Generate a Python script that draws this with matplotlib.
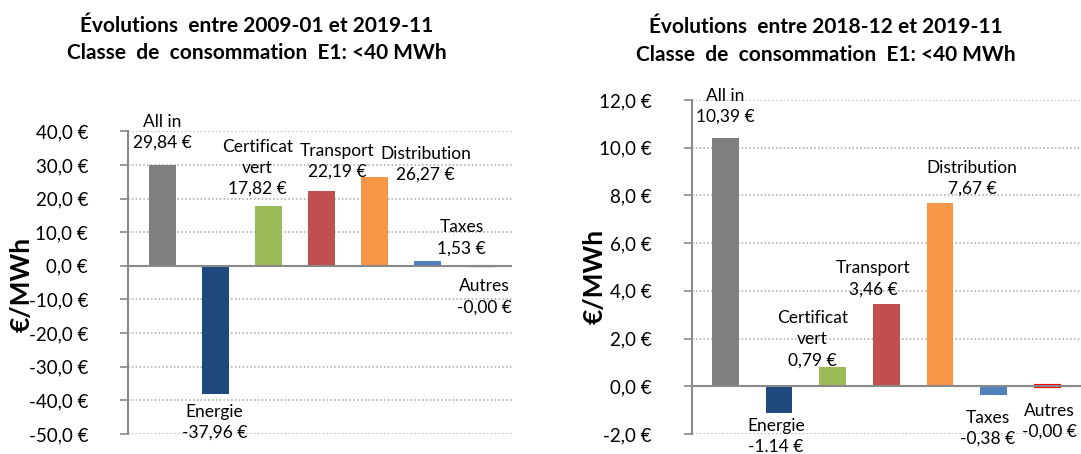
import matplotlib
matplotlib.use("Agg")
import matplotlib.pyplot as plt

plt.rcParams['font.family'] = ['Lato', 'DejaVu Sans']

# ---- data ----
categories = ["All in", "Energie", "Certificat\nvert", "Transport", "Distribution", "Taxes", "Autres"]
values_left = [29.84, -37.96, 17.82, 22.19, 26.27, 1.53, -0.004]
labels_left = ["29,84 €", "-37,96 €", "17,82 €", "22,19 €", "26,27 €", "1,53 €", "-0,00 €"]
values_right = [10.39, -1.14, 0.79, 3.46, 7.67, -0.38, -0.004]
labels_right = ["10,39 €", "-1.14 €", "0,79 €", "3,46 €", "7,67 €", "-0,38 €", "-0,00 €"]
title_left = "Évolutions  entre 2009-01 et 2019-11\nClasse  de  consommation  E1: <40 MWh"
title_right = "Évolutions  entre 2018-12 et 2019-11\nClasse  de  consommation  E1: <40 MWh"
yticks_left = [40, 30, 20, 10, 0, -10, -20, -30, -40, -50]
yticks_right = [12, 10, 8, 6, 4, 2, 0, -2]

# ---- style ----
colors_left = ["#7F7F7F", "#1F497D", "#9BBB59", "#C0504D", "#F79646", "#4F81BD", "#C0504D"]
colors_right = ["#7F7F7F", "#1F497D", "#9BBB59", "#C0504D", "#F79646", "#4F81BD", "#FF0000"]
edge_lw_left = [0, 0, 0, 0, 0, 0, 1.0]
edge_lw_right = [0, 0, 0, 0, 0, 0, 3.0]
# label offsets (pixels) relative to bar end
offs_left = [(0, 33), (-1, -29), (-11, 38), (16, 30), (51, 13), (34, 23), (4, -31)]
offs_right = [(0, 32), (-3, -23), (-20, 28), (-13, 25), (32, 25), (-6, -33), (2, -35)]

W, H = 1081, 454
fig = plt.figure(figsize=(W / 100, H / 100), dpi=100)

AX_GRAY = "#898989"
GRID_GRAY = "#A6A6A6"


def fmt_tick(v):
    return f"{v:.1f}".replace(".", ",") + " €"


def draw(rect, values, labels, colors, lws, offs, yticks, ylim, xlim, title, title_xy, ylabel_xy):
    ax = fig.add_axes(rect)
    x = list(range(len(values)))
    ax.bar(x, values, width=0.5, color=colors, edgecolor=colors, linewidth=lws, zorder=2)
    ax.set_xlim(*xlim)
    ax.set_ylim(*ylim)
    ax.set_yticks(yticks)
    ax.set_yticklabels([fmt_tick(v) for v in yticks], fontsize=13.5)
    ax.set_xticks([])
    for s in ["top", "right", "bottom"]:
        ax.spines[s].set_visible(False)
    ax.spines["left"].set_color(AX_GRAY)
    ax.spines["left"].set_linewidth(1.5)
    ax.tick_params(axis="y", length=6, width=1.2, color=AX_GRAY, pad=23)
    for t in yticks:
        if t != 0:
            ax.axhline(t, color=GRID_GRAY, lw=1.1, ls=(0, (1, 1.5)), zorder=1)
    ax.axhline(0, color=AX_GRAY, lw=1.5, zorder=3)
    for xi, v, cat, lab, (dx, dy) in zip(x, values, categories, labels, offs):
        ax.annotate(cat + "\n" + lab, xy=(xi, v), xytext=(dx, dy), textcoords="offset pixels",
                    ha="center", va="center", fontsize=12.5, linespacing=1.4, color="#000000",
                    zorder=4, annotation_clip=False)
    fig.text(title_xy[0] / W, 1 - title_xy[1] / H, title, ha="center", va="center",
             fontsize=15, fontweight="bold", linespacing=1.45)
    fig.text(ylabel_xy[0] / W, 1 - ylabel_xy[1] / H, "€/MWh", rotation=90, ha="center", va="center",
             fontsize=19, fontweight="bold")
    return ax


axl = draw([128.3 / W, 1 - 434 / H, (512 - 128.3) / W, (434 - 131.3) / H],
           values_left, labels_left, colors_left, edge_lw_left, offs_left, yticks_left, (-50, 40),
           (-0.645, 6.594), title_left, (257, 39.5), (22, 284))
axr = draw([691.7 / W, 1 - 434 / H, (W - 691.7) / W, (434 - 100) / H],
           values_right, labels_right, colors_right, edge_lw_right, offs_right, yticks_right, (-2, 12),
           (-0.626, 6.628), title_right, (826, 41), (595, 276))

fig.savefig("out.png", dpi=100)
